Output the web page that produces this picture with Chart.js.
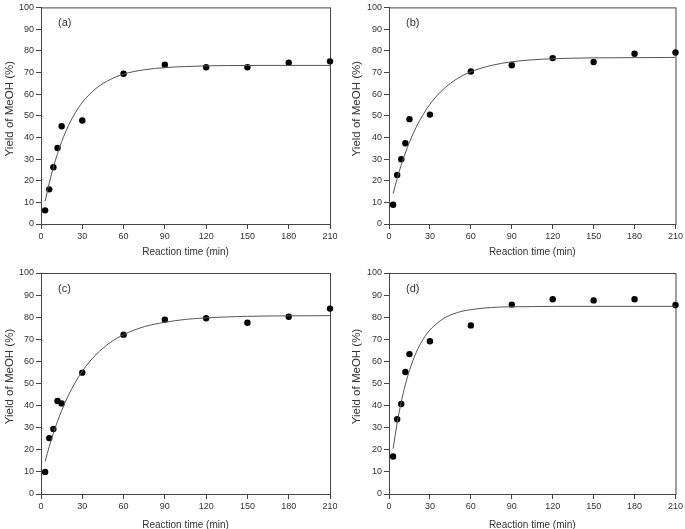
<!DOCTYPE html>
<html>
<head>
<meta charset="utf-8">
<script src="https://cdn.jsdelivr.net/npm/chart.js@4.4.1/dist/chart.umd.min.js"></script>
<style>
  html, body { margin: 0; padding: 0; background: #fff; width: 685px; height: 529px; overflow: hidden; position: relative; }
  canvas { position: absolute; }
</style>
</head>
<body>
<canvas id="pa" width="342" height="262" style="left:0;top:0"></canvas>
<canvas id="pb" width="343" height="262" style="left:342px;top:0"></canvas>
<canvas id="pc" width="342" height="275" style="left:0;top:262px"></canvas>
<canvas id="pd" width="343" height="275" style="left:342px;top:262px"></canvas>
<script>
// measured points (min, %)
const times = [3, 6, 9, 12, 15, 30, 60, 90, 120, 150, 180, 210];
const yieldA = [6.3, 16.0, 26.2, 35.1, 45.1, 47.8, 69.4, 73.5, 72.4, 72.4, 74.5, 75.1];
const yieldB = [8.9, 22.6, 29.9, 37.3, 48.4, 50.5, 70.4, 73.3, 76.6, 74.8, 78.6, 79.2];
const yieldC = [10.0, 25.3, 29.4, 42.1, 41.0, 54.9, 72.1, 78.9, 79.5, 77.5, 80.2, 83.9];
const yieldD = [17.0, 33.8, 40.7, 55.2, 63.3, 69.1, 76.3, 85.7, 88.1, 87.6, 88.1, 85.5];

// fitted curves
const fitTimes = [3, 6, 9, 12, 15, 20, 25, 30, 40, 50, 60, 75, 90, 105, 120, 150, 180, 210];
const fitA = [10.5, 18.9, 26.2, 32.5, 38.0, 45.5, 51.4, 56.1, 62.6, 66.6, 69.2, 71.2, 72.2, 72.7, 73.0, 73.2, 73.2, 73.2];
const fitB = [14.0, 21.0, 27.3, 32.8, 37.8, 44.8, 50.5, 55.3, 62.3, 67.1, 70.3, 73.2, 74.9, 75.8, 76.3, 76.7, 76.8, 76.9];
const fitC = [14.8, 21.5, 27.5, 32.9, 37.7, 44.8, 50.6, 55.6, 63.1, 68.4, 72.1, 75.7, 77.7, 79.0, 79.7, 80.4, 80.6, 80.7];
const fitD = [20.5, 32.2, 41.7, 49.5, 55.9, 64.1, 70.0, 74.2, 79.4, 82.1, 83.4, 84.4, 84.7, 84.8, 84.9, 84.9, 84.9, 84.9];

const xTicks = [0, 30, 60, 90, 120, 150, 180, 210];
const xTitle = 'Reaction time (min)';
const yTitle = 'Yield of MeOH (%)';

const FONT = '"Liberation Sans", Arial, sans-serif';
const AXIS = '#444';
const TEXT = '#333';

const panels = [
  { id: 'pa', tag: '(a)', pts: yieldA, fit: fitA, yW: 41, padTop: 3, padRight: 12, xH: 38, yOff: 10, xPad: 4 },
  { id: 'pb', tag: '(b)', pts: yieldB, fit: fitB, yW: 47, padTop: 3, padRight: 8, xH: 38, yOff: 14.5, xPad: 4 },
  { id: 'pc', tag: '(c)', pts: yieldC, fit: fitC, yW: 41, padTop: 11, padRight: 12, xH: 43, yOff: 10, xPad: 6 },
  { id: 'pd', tag: '(d)', pts: yieldD, fit: fitD, yW: 47, padTop: 11, padRight: 8, xH: 43, yOff: 14.5, xPad: 6 }
];

// frame round the plot, panel letter and y title
const framePlugin = {
  id: 'frame',
  beforeDatasetsDraw(chart) {
    const a = chart.chartArea, ctx = chart.ctx;
    const o = chart.options.plugins.frame;
    ctx.save();
    ctx.strokeStyle = AXIS;
    ctx.lineWidth = 1;
    ctx.strokeRect(a.left + 0.5, a.top + 0.5, a.right - a.left, a.bottom - a.top);
    ctx.fillStyle = TEXT;
    ctx.font = '11px ' + FONT;
    ctx.textBaseline = 'middle';
    ctx.fillText(o.tag, a.left + 17, a.top + 16);
    // y title, a little above the middle as in the original
    ctx.translate(a.left - o.yW + o.yOff, (a.top + a.bottom) / 2 - 7);
    ctx.rotate(-Math.PI / 2);
    ctx.font = '11.5px ' + FONT;
    ctx.textAlign = 'center';
    ctx.fillText(yTitle, 0, 0);
    ctx.restore();
  }
};

panels.forEach(p => {
  const ctx = document.getElementById(p.id).getContext('2d');
  new Chart(ctx, {
    type: 'scatter',
    data: {
      datasets: [
        {
          data: fitTimes.map((t, i) => ({ x: t, y: p.fit[i] })),
          showLine: true,
          pointRadius: 0,
          borderColor: '#555',
          borderWidth: 1,
          cubicInterpolationMode: 'monotone'
        },
        {
          data: times.map((t, i) => ({ x: t, y: p.pts[i] })),
          pointRadius: 3.2,
          pointBackgroundColor: '#000',
          pointBorderColor: '#000',
          pointBorderWidth: 0,
          clip: false
        }
      ]
    },
    options: {
      responsive: false,
      animation: false,
      layout: { padding: { top: p.padTop, right: p.padRight, left: 0, bottom: 0 } },
      plugins: {
        legend: { display: false },
        tooltip: { enabled: false },
        frame: { tag: p.tag, yW: p.yW, yOff: p.yOff }
      },
      scales: {
        x: {
          type: 'linear',
          min: 0, max: 210,
          afterBuildTicks: s => { s.ticks = xTicks.map(v => ({ value: v })); },
          afterFit: s => { s.height = p.xH; },
          grid: { drawOnChartArea: false, drawTicks: true, tickLength: 5, color: AXIS },
          border: { color: AXIS },
          ticks: { color: TEXT, font: { family: FONT, size: 9 }, padding: 2, maxRotation: 0 },
          title: { display: true, text: xTitle, color: TEXT, font: { family: FONT, size: 10 }, padding: { top: 0, bottom: p.xPad } }
        },
        y: {
          min: 0, max: 100,
          ticks: { stepSize: 10, color: TEXT, font: { family: FONT, size: 9 }, padding: 2 },
          afterFit: s => { s.width = p.yW; },
          grid: { drawOnChartArea: false, drawTicks: true, tickLength: 5, color: AXIS },
          border: { color: AXIS },
          title: { display: false }
        }
      }
    },
    plugins: [framePlugin]
  });
});
</script>
</body>
</html>
